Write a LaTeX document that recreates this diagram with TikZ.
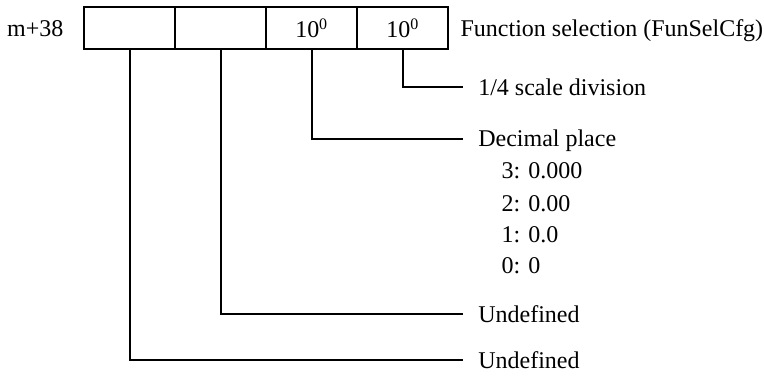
\documentclass[tikz,border=0pt]{standalone}
\usepackage{fontspec}
\setmainfont{Liberation Serif}
\usepackage{tikz}

\begin{document}
\begin{tikzpicture}[font=\fontsize{12}{14}\selectfont, line width=1pt,
        cell/.style={rectangle, draw, minimum width=1.6cm, minimum height=0.74cm, inner sep=0pt},
        txt/.style={inner sep=0pt, text height=9pt, text depth=1pt},
        lbl/.style={txt, anchor=west, inner xsep=0.25cm},
        val/.style={txt, anchor=west}]
        \useasboundingbox (0,0) rectangle (13.43,6.61);

        % Define nodes
        \node[txt] (reg) at (0.62,6.11) {m+38};
        \node[cell] (c1) at (2.28,6.11) {};
        \node[cell] (c2) at (3.88,6.11) {};
        \node[cell] (c3) at (5.48,6.11) {10\textsuperscript{0}};
        \node[cell] (c4) at (7.08,6.11) {10\textsuperscript{0}};
        \node[val] (fsel) at (8.08,6.11) {Function selection (FunSelCfg)};

        % Labels of the bits
        \node[lbl] (sdiv) at (8.14,5.08) {1/4 scale division};
        \node[lbl] (dec) at (8.14,4.17) {Decimal place};
        \node[val] (d3) at (8.80,3.62) {3: 0.000};
        \node[val] (d2) at (8.80,3.04) {2: 0.00};
        \node[val] (d1) at (8.80,2.48) {1: 0.0};
        \node[val] (d0) at (8.80,1.95) {0: 0};
        \node[lbl] (undA) at (8.14,1.09) {Undefined};
        \node[lbl] (undB) at (8.14,0.28) {Undefined};

        % Connect cells to labels
        \draw (c4.south) |- (sdiv.west);
        \draw (c3.south) |- (dec.west);
        \draw (c2.south) |- (undA.west);
        \draw (c1.south) |- (undB.west);
    \end{tikzpicture}
\end{document}
